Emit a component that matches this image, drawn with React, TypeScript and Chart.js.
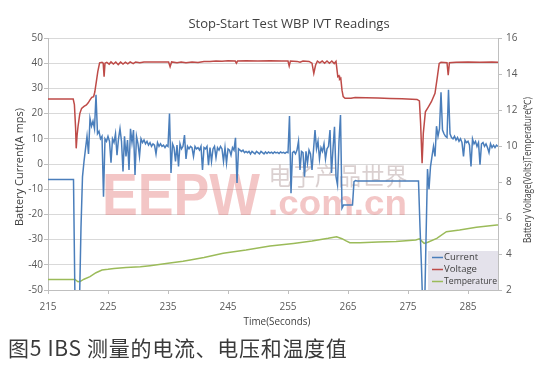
import { useEffect, useRef } from 'react';
import { Chart, registerables } from 'chart.js';

Chart.register(...registerables);

// ---------- data ----------
const chartTitle = 'Stop-Start Test WBP IVT Readings';
const leftAxisTitle = 'Battery Current(A mps)';
const rightAxisTitle = 'Battery Voltage(Volts)Temperature(℃)';
const xAxisTitle = 'Time(Seconds)';
const caption = '图5 IBS 测量的电流、电压和温度值';
const seriesNames = ['Current', 'Voltage', 'Temperature'];
const seriesColors = ['#4A7EBB', '#BE4B48', '#9BBB59'];
const xTickValues = [215, 225, 235, 245, 255, 265, 275, 285];

// current sampled every 0.25 s starting at 215 s (one row = one second)
const currentStart = 215;
const currentStep = 0.25;
const currentValues = [
  -6.2, -6.2, -6.2, -6.2, // 215
  -6.2, -6.2, -6.2, -6.2, // 216
  -6.2, -6.2, -6.2, -6.2, // 217
  -6.2, -6.2, -6.2, -6.2, // 218
  -6.2, -6.2, -55, -58, // 219
  -58, -55, -25, -5, // 220
  1, 6, 11, 4, // 221
  18, 15, 17, 14, // 222
  27.5, 12, 13, 10, // 223
  11, -13, 10, 9, // 224
  11, 9, 0.5, 10, // 225
  8.5, 12, 3.5, 10, // 226
  14, 9, -3, 11, // 227
  3, 9.5, -2.4, 14, // 228
  8.5, 13.5, -4.4, 11, // 229
  8, 3, 10, 8.5, // 230
  9.5, 8, 9, 7.5, // 231
  8.5, 7, 8, 7.5, // 232
  4, 8.5, 7, 8, // 233
  7, 7.5, 6.5, 7.5, // 234
  7, 20, -3.6, 8, // 235
  6.5, 1, 7.5, -1, // 236
  8, 6, 7, 11.5, // 237
  2, 7, 6, 7, // 238
  6.5, 3, 7, 6, // 239
  6.5, 5.5, 7, -2.4, // 240
  6.5, 6, 7, -0.5, // 241
  6.5, 1, 6, 7, // 242
  2.5, 6.5, 5.5, 7, // 243
  6, 1, 6.5, 0.4, // 244
  6, 5.5, 3.5, 6.5, // 245
  5.5, 10.4, -7.5, 6, // 246
  5.5, 5, 5.5, 4.5, // 247
  5, 4.5, 5, 4, // 248
  5, 4.5, 4, 5, // 249
  4.5, 4, 5, 4.5, // 250
  4, 4.8, 4.2, 4.8, // 251
  4.3, 4.7, 4.2, 4.8, // 252
  4.4, 4.6, 4.2, 4.8, // 253
  4.4, 4.6, 4.2, 4.7, // 254
  4.5, 19, -11.6, 4.5, // 255
  5, 4, 5.5, 9, // 256
  -2.4, 5, 4.5, -5, // 257
  5, 0.4, 5.5, 4, // 258
  -2.4, 5.5, 13.5, 6, // 259
  9, 2, 6.5, 5, // 260
  8, 2, 6, 7, // 261
  13.5, -3.6, 6, 14.8, // 262
  -5, -8.3, 9, 19.4, // 263
  -17.5, -16.3, -16.3, -16.3, // 264
  -16.3, -16.3, -16.3, -16.3, // 265
  -7, -6.6, -6.7, -6.7, // 266
  -6.7, -6.7, -6.7, -6.7, // 267
  -6.7, -6.7, -6.7, -6.7, // 268
  -6.7, -6.7, -6.7, -6.7, // 269
  -6.7, -6.7, -6.7, -6.7, // 270
  -6.7, -6.7, -6.7, -6.7, // 271
  -6.7, -6.7, -6.7, -6.7, // 272
  -6.7, -6.7, -6.7, -6.7, // 273
  -6.7, -6.7, -6.7, -6.7, // 274
  -6.7, -6.7, -6.7, -6.7, // 275
  -6.7, -6.7, -6.7, -6.7, // 276
  -25, -41, -60, -60, // 277
  -30, -2, -10, -1, // 278
  3, 7, 3, 15, // 279
  11, 14, 28.5, 13.5, // 280
  12, 11, 10.5, 29.5, // 281
  12, 10.5, 10, 11, // 282
  9.5, 10.5, 9, 10, // 283
  8.5, 3, 9.5, 8.5, // 284
  9, 7.5, -1, 10, // 285
  8, 9, 7, 8.5, // 286
  -0.3, 8, 8.5, 7, // 287
  8, 6.5, 4.5, 8, // 288
  6.5, 7.5, 6.5, 7.5, // 289
  7, // 290
];

const voltageTimes = [
  215, 219.2, 219.4, 219.6, 219.7, 219.85, 220.0, 220.3, 220.6, 221.0, 221.4, 221.7, 222.0, 222.3,
  222.6, 222.8, 223.1, 223.3, 223.6, 224.0, 224.2, 224.35, 224.5, 224.8, 225.2, 225.5, 225.9, 226.3,
  226.7, 227.1, 227.5, 227.9, 228.3, 228.7, 229.2, 229.6, 230.3, 231, 232, 233, 234, 235.1, 235.35,
  235.6, 236.5, 237.2, 238, 239, 240, 241, 242, 243, 244, 245, 246.2, 246.4, 246.6, 248, 250, 252,
  254, 255.0, 255.2, 255.4, 256.5, 257, 257.5, 258.5, 259.0, 259.3, 259.6, 259.9, 260.3, 260.7,
  261.1, 261.5, 261.9, 262.3, 262.7, 263.0, 263.3, 263.5, 263.6, 263.8, 264.0, 264.2, 264.5, 265.5,
  266.2, 268, 270, 272, 274, 276.5, 276.9, 277.1, 277.35, 277.55, 277.9, 278.4, 278.9, 279.5, 279.9,
  280.2, 280.5, 281.5, 281.7, 281.9, 283, 285, 287, 289, 290,
];
const voltageValues = [
  12.61, 12.61, 12.3, 11.0, 9.87, 10.6, 11.07, 11.8, 12.09, 12.2, 12.28, 12.4, 12.56, 12.7,
  12.74, 13.0, 13.67, 14.13, 14.62, 14.65, 14.6, 13.85, 14.6, 14.65, 14.55, 14.67, 14.55, 14.67,
  14.52, 14.66, 14.55, 14.66, 14.56, 14.67, 14.58, 14.67, 14.62, 14.67, 14.66, 14.67, 14.66, 14.67, 14.4,
  14.67, 14.62, 14.67, 14.63, 14.67, 14.64, 14.7, 14.7, 14.72, 14.71, 14.73, 14.72, 14.6, 14.72, 14.73, 14.72, 14.73,
  14.72, 14.72, 14.44, 14.72, 14.7, 14.65, 14.72, 14.7, 14.6, 14.04, 14.5, 14.72, 14.62, 14.72,
  14.6, 14.72, 14.6, 14.72, 14.58, 14.7, 13.85, 13.9, 13.7, 13.76, 13.1, 12.74, 12.65, 12.65,
  12.7, 12.68, 12.66, 12.64, 12.62, 12.59, 12.5, 11.28, 9.04, 10.7, 11.9, 12.18, 12.46, 12.93, 13.85,
  14.59, 14.65, 14.63, 13.94, 14.63, 14.65, 14.66, 14.65, 14.66, 14.65,
];

const tempTimes = [
  215, 219.5, 220.0, 220.4, 221.0, 222.0, 223.0, 224.0, 225.0, 226.0, 228, 230.4, 232, 235, 237.5,
  238.7, 241, 244.2, 248, 252, 255.9, 259, 261.7, 263.1, 264, 264.6, 265.3, 267, 270, 273, 276.3,
  276.9, 277.7, 278.3, 279.8, 281.4, 283.6, 286.4, 289.8, 290,
];
const tempValues = [
  2.59, 2.59, 2.46, 2.48, 2.6, 2.74, 2.96, 3.11, 3.15, 3.2, 3.25, 3.29, 3.35, 3.48, 3.6,
  3.67, 3.8, 4.04, 4.22, 4.44, 4.59, 4.72, 4.87, 4.96, 4.85, 4.74, 4.63, 4.62, 4.66, 4.7, 4.78,
  4.84, 4.59, 4.65, 4.87, 5.24, 5.33, 5.48, 5.61, 5.61,
];

// ---------- helpers ----------
function drawText(
  ctx: CanvasRenderingContext2D,
  text: string,
  x: number,
  y: number,
  font: string,
  color: string,
  maxW: number,
  rot = 0,
  align: CanvasTextAlign = 'center'
) {
  ctx.save();
  ctx.translate(x, y);
  ctx.rotate(rot);
  ctx.font = font;
  ctx.fillStyle = color;
  ctx.textAlign = align;
  ctx.textBaseline = 'middle';
  const w = ctx.measureText(text).width;
  if (w > maxW) ctx.scale(maxW / w, 1);
  ctx.fillText(text, 0, 0);
  ctx.restore();
}

const decorPlugin = {
  id: 'decor',
  beforeDatasetsDraw(chart: any) {
    const ctx: CanvasRenderingContext2D = chart.ctx;
    ctx.save();
    // watermark
    ctx.font = 'bold 60px "Liberation Sans", Arial, sans-serif';
    ctx.fillStyle = 'rgba(226, 120, 120, 0.42)';
    ctx.textAlign = 'left';
    ctx.textBaseline = 'alphabetic';
    const w1 = ctx.measureText('EEPW').width;
    ctx.save();
    ctx.translate(102, 215);
    ctx.scale(158 / w1, 1);
    ctx.fillText('EEPW', 0, 0);
    ctx.restore();
    ctx.font = 'bold 35px "Liberation Sans", Arial, sans-serif';
    const w2 = ctx.measureText('.com.cn').width;
    ctx.save();
    ctx.translate(268, 215);
    ctx.scale(139 / w2, 1);
    ctx.fillText('.com.cn', 0, 0);
    ctx.restore();
    ctx.restore();
    drawText(ctx, '电子产品世界', 338, 176, '24px "Noto Sans CJK SC", sans-serif', 'rgba(150, 120, 120, 0.35)', 139);
  },
  afterDatasetsDraw(chart: any) {
    const ctx: CanvasRenderingContext2D = chart.ctx;
    // legend
    ctx.save();
    ctx.fillStyle = '#e4e2eb';
    ctx.fillRect(428, 251, 70, 39);
    const rows = [257.5, 269.5, 281.5];
    seriesNames.forEach((name, i) => {
      ctx.strokeStyle = seriesColors[i];
      ctx.lineWidth = 1.5;
      ctx.beginPath();
      ctx.moveTo(432, rows[i]);
      ctx.lineTo(443, rows[i]);
      ctx.stroke();
      drawText(ctx, name, 444, rows[i], '9.5px "Open Sans", sans-serif', '#404040', 53, 0, 'left');
    });
    ctx.restore();
  },
  afterDraw(chart: any) {
    const ctx: CanvasRenderingContext2D = chart.ctx;
    drawText(ctx, chartTitle, 289, 24, '13px "Open Sans", sans-serif', '#404040', 212);
    drawText(ctx, leftAxisTitle, 20, 167, '11px "Open Sans", sans-serif', '#404040', 119, -Math.PI / 2);
    drawText(ctx, rightAxisTitle, 528, 170, '10px "Open Sans", sans-serif', '#404040', 146, -Math.PI / 2);
    drawText(ctx, xAxisTitle, 277, 322, '11px "Open Sans", sans-serif', '#404040', 67);
  },
};

export default function App() {
  const canvasRef = useRef<HTMLCanvasElement | null>(null);

  useEffect(() => {
    if (!canvasRef.current) return;
    const currentData = currentValues.map((v, i) => ({ x: currentStart + i * currentStep, y: v }));
    const voltageData = voltageTimes.map((t, i) => ({ x: t, y: voltageValues[i] }));
    const tempData = tempTimes.map((t, i) => ({ x: t, y: tempValues[i] }));
    const tickFont = { family: '"Open Sans", sans-serif', size: 10 };

    const chart = new Chart(canvasRef.current, {
      type: 'line',
      data: {
        datasets: [
          { label: seriesNames[0], data: currentData, yAxisID: 'y', borderColor: seriesColors[0], borderWidth: 1.5, pointRadius: 0, tension: 0 },
          { label: seriesNames[1], data: voltageData, yAxisID: 'y1', borderColor: seriesColors[1], borderWidth: 1.5, pointRadius: 0, tension: 0 },
          { label: seriesNames[2], data: tempData, yAxisID: 'y1', borderColor: seriesColors[2], borderWidth: 1.5, pointRadius: 0, tension: 0 },
        ],
      },
      options: {
        responsive: false,
        animation: false,
        events: [],
        layout: { padding: { top: 38, left: 0, right: 0, bottom: 0 } },
        plugins: { legend: { display: false }, tooltip: { enabled: false }, title: { display: false } },
        scales: {
          x: {
            type: 'linear',
            min: 215,
            max: 290,
            afterBuildTicks: (scale: any) => {
              scale.ticks = xTickValues.map((v) => ({ value: v }));
            },
            afterFit: (scale: any) => {
              scale.height = 45;
            },
            grid: { drawOnChartArea: false, drawTicks: true, tickLength: 4, color: '#bfbfbf' },
            border: { display: true, color: '#bfbfbf' },
            ticks: { font: tickFont, color: '#595959', padding: 7, maxRotation: 0, autoSkip: false },
          },
          y: {
            type: 'linear',
            position: 'left',
            min: -50,
            max: 50,
            afterFit: (scale: any) => {
              scale.width = 48;
            },
            grid: { color: '#d9d9d9', tickColor: '#bfbfbf', tickLength: 4 },
            border: { display: true, color: '#bfbfbf' },
            ticks: { stepSize: 10, font: tickFont, color: '#595959', padding: 1 },
          },
          y1: {
            type: 'linear',
            position: 'right',
            min: 2,
            max: 16,
            afterFit: (scale: any) => {
              scale.width = 42;
            },
            grid: { drawOnChartArea: false, tickColor: '#bfbfbf', tickLength: 4 },
            border: { display: true, color: '#bfbfbf' },
            ticks: { stepSize: 2, font: tickFont, color: '#595959', padding: 4 },
          },
        },
      },
      plugins: [decorPlugin],
    });
    return () => chart.destroy();
  }, []);

  return (
    <div style={{ position: 'fixed', left: 0, top: 0, width: 540, height: 372, background: '#ffffff', overflow: 'hidden' }}>
      <canvas ref={canvasRef} width={540} height={335} style={{ display: 'block' }} />
      <div
        style={{
          position: 'absolute',
          left: 8,
          top: 335,
          fontFamily: '"Noto Sans CJK SC", sans-serif',
          fontSize: 21,
          lineHeight: '24px',
          letterSpacing: '0.7px',
          color: '#3a3a3a',
          whiteSpace: 'nowrap',
        }}
      >
        {caption}
      </div>
    </div>
  );
}
